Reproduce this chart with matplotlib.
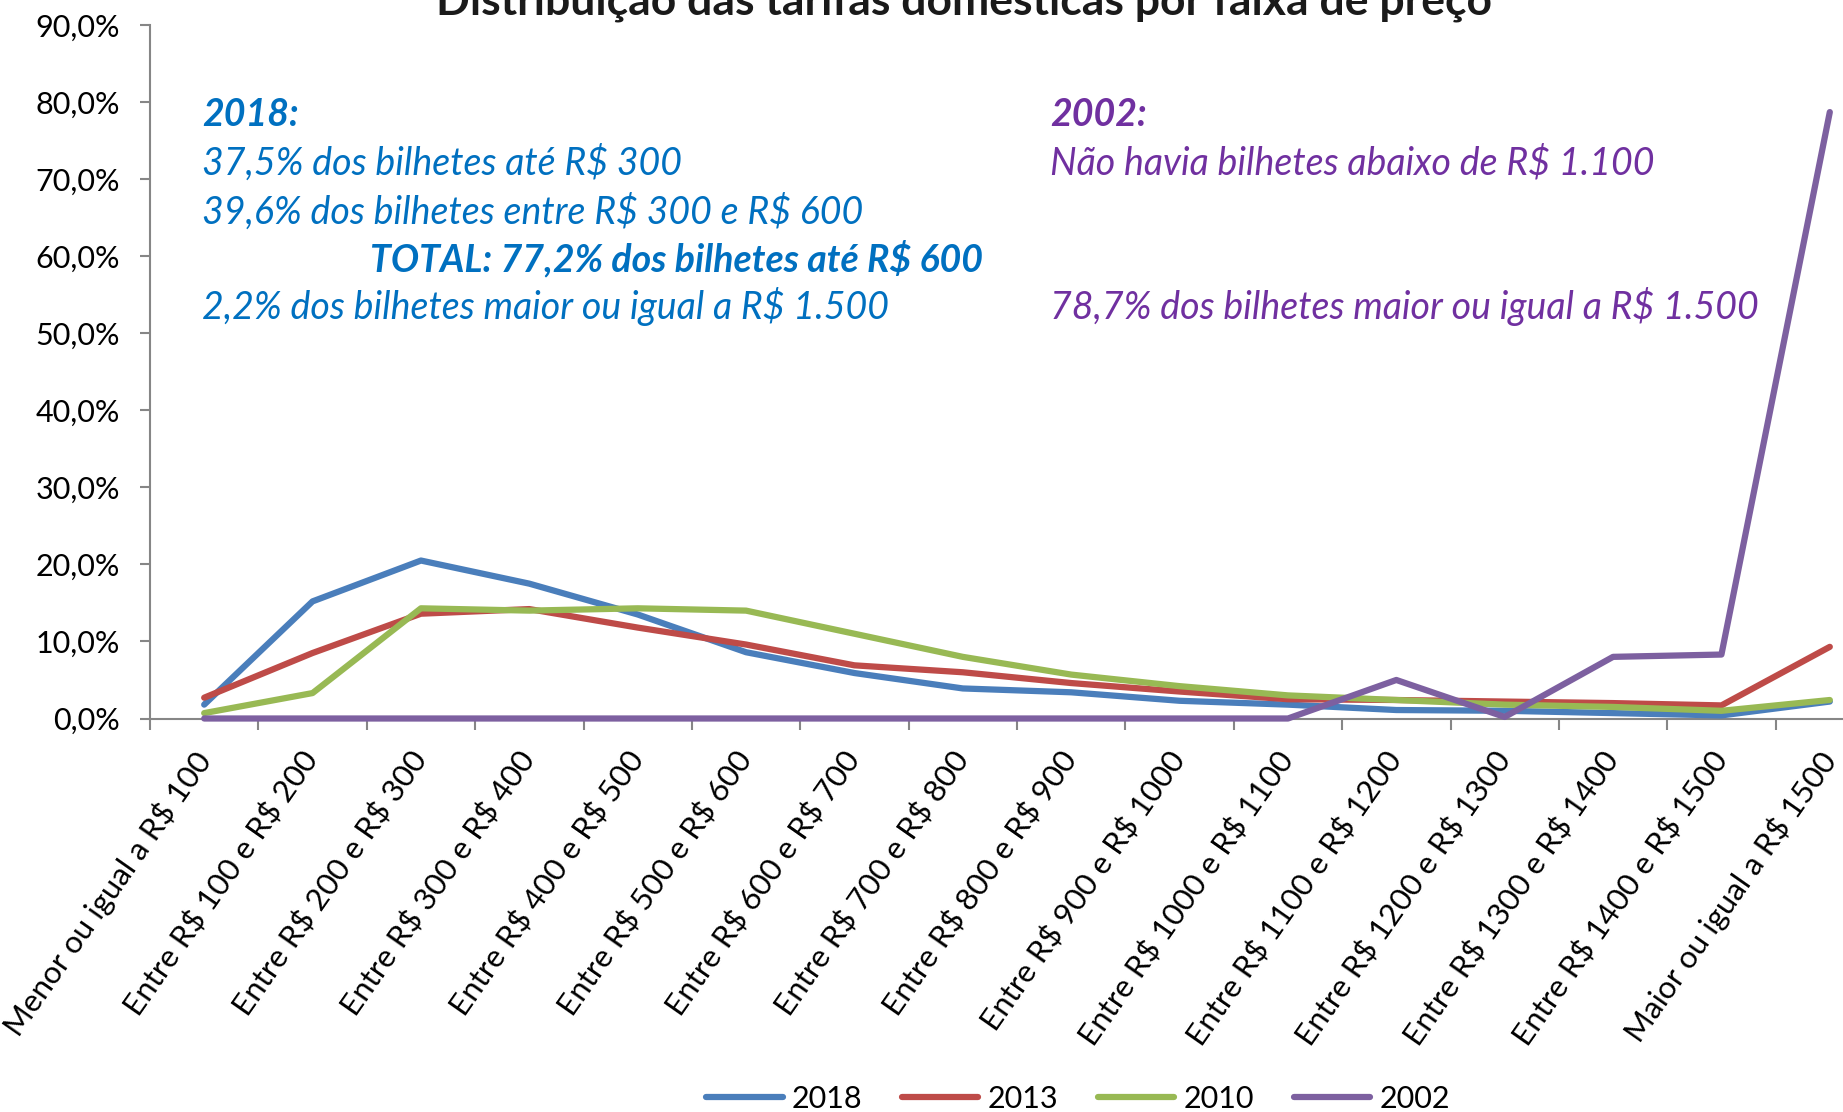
import numpy as np
import matplotlib as mpl
mpl.use('Agg')
import matplotlib.pyplot as plt
from matplotlib.ticker import FixedLocator

mpl.rcParams['font.family'] = ['Lato', 'DejaVu Sans']
mpl.rcParams['text.parse_math'] = False  # os "R$" nao sao mathtext

# faixas de preco (eixo x)
categorias = ['Menor ou igual a R$ 100', 'Entre R$ 100 e R$ 200', 'Entre R$ 200 e R$ 300',
              'Entre R$ 300 e R$ 400', 'Entre R$ 400 e R$ 500', 'Entre R$ 500 e R$ 600',
              'Entre R$ 600 e R$ 700', 'Entre R$ 700 e R$ 800', 'Entre R$ 800 e R$ 900',
              'Entre R$ 900 e R$ 1000', 'Entre R$ 1000 e R$ 1100', 'Entre R$ 1100 e R$ 1200',
              'Entre R$ 1200 e R$ 1300', 'Entre R$ 1300 e R$ 1400', 'Entre R$ 1400 e R$ 1500',
              'Maior ou igual a R$ 1500']

# percentuais
v2018 = [1.8, 15.2, 20.5, 17.5, 13.5, 8.6, 5.9, 3.9, 3.4, 2.3, 1.8, 1.1, 1.0, 0.7, 0.4, 2.2]
v2013 = [2.7, 8.5, 13.6, 14.2, 11.8, 9.6, 6.9, 6.0, 4.6, 3.5, 2.5, 2.4, 2.2, 2.0, 1.7, 9.3]
v2010 = [0.7, 3.3, 14.3, 14.0, 14.3, 14.0, 11.0, 8.0, 5.7, 4.2, 3.0, 2.4, 1.8, 1.5, 1.0, 2.4]
v2002 = [0.0, 0.0, 0.0, 0.0, 0.0, 0.0, 0.0, 0.0, 0.0, 0.0, 0.0, 5.0, 0.2, 8.0, 8.3, 78.7]

series = [('2018', v2018, '#4A7EBB'), ('2013', v2013, '#BE4B48'),
          ('2010', v2010, '#98B954'), ('2002', v2002, '#7D60A0')]
yticks = np.arange(0, 91, 10)

W, H = 1843, 1112
fig = plt.figure(figsize=(W/100., H/100.), dpi=100)
# area do grafico passa da borda direita (imagem cortada)
ax = fig.add_axes([150./W, 1-718.5/H, 1734./W, (718.5-25)/H])

x = np.arange(len(categorias))
for nome, vals, cor in series:
    ax.plot(x, vals, color=cor, lw=4.5, label=nome, solid_capstyle='round',
            solid_joinstyle='round', clip_on=False, zorder=3)

ax.set_xlim(-0.5, len(categorias)-0.5)
ax.set_ylim(0, 90)
for s in ['top', 'right']:
    ax.spines[s].set_visible(False)
for s in ['left', 'bottom']:
    ax.spines[s].set_color('#868686')
    ax.spines[s].set_linewidth(1.5)

ax.set_yticks(yticks)
ax.set_yticklabels([('%.1f%%' % v).replace('.', ',') for v in yticks])
ax.tick_params(axis='y', length=7.5, width=1.5, color='#868686', labelsize=22, pad=14)

ax.set_xticks(x)
ax.set_xticklabels(categorias, rotation=55, ha='right', va='center', rotation_mode='anchor')
ax.xaxis.set_minor_locator(FixedLocator(np.arange(-0.5, len(categorias), 1)))
ax.tick_params(axis='x', which='major', length=0, labelsize=22.5, pad=26)
ax.tick_params(axis='x', which='minor', length=8, width=1.5, color='#868686')

fig.text(964./W, 1-15./H, 'Distribuição das tarifas domésticas por faixa de preço',
         ha='center', va='baseline', fontsize=32, fontweight='bold', color='#1a1a1a')

azul = '#0070C0'
roxo = '#7030A0'
fs = 27
fig.text(202./W, 1-115./H, '2018:', color=azul, fontsize=fs, style='italic',
         fontweight='bold', va='center')
fig.text(202./W, 1-163./H, '37,5% dos bilhetes até R$ 300', color=azul, fontsize=fs,
         style='italic', va='center')
fig.text(202./W, 1-212./H, '39,6% dos bilhetes entre R$ 300 e R$ 600', color=azul,
         fontsize=fs, style='italic', va='center')
fig.text(370./W, 1-259./H, 'TOTAL: 77,2% dos bilhetes até R$ 600', color=azul, fontsize=fs,
         style='italic', fontweight='bold', va='center')
fig.text(202./W, 1-307./H, '2,2% dos bilhetes maior ou igual a R$ 1.500', color=azul,
         fontsize=fs, style='italic', va='center')

fig.text(1050./W, 1-115./H, '2002:', color=roxo, fontsize=fs, style='italic',
         fontweight='bold', va='center')
fig.text(1050./W, 1-163./H, 'Não havia bilhetes abaixo de R$ 1.100', color=roxo,
         fontsize=fs, style='italic', va='center')
fig.text(1050./W, 1-307./H, '78,7% dos bilhetes maior ou igual a R$ 1.500', color=roxo,
         fontsize=fs, style='italic', va='center')

leg = fig.legend(loc='center', bbox_to_anchor=(1078./W, 1-1099./H), ncol=4, fontsize=22,
                 frameon=False, handlelength=2.5, handletextpad=0.3, columnspacing=1.3)

fig.savefig('out.png', dpi=100)
